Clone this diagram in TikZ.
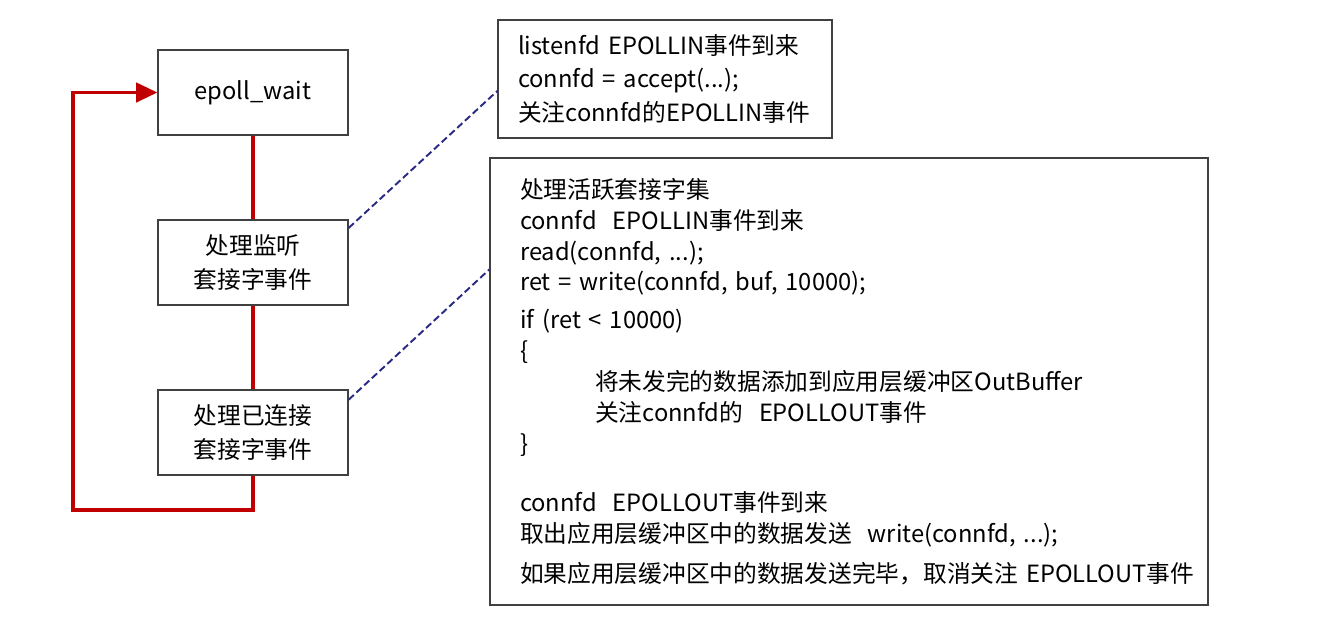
\documentclass[tikz,border=0pt]{standalone}
\usepackage{fontspec}
\setmainfont{Noto Sans CJK SC}
\usetikzlibrary{arrows.meta, calc}
\definecolor{loopred}{HTML}{C00000}
\definecolor{linkblue}{HTML}{2A2A85}
\definecolor{boxline}{HTML}{404040}

\begin{document}
\begin{tikzpicture}[
    x=0.02cm, y=-0.02cm,
    panel/.style={draw=boxline, line width=0.8pt, fill=white, inner ysep=0pt},
    stage/.style={panel, align=center, minimum width=3.8cm, minimum height=1.7cm,
                  font=\fontsize{13.5pt}{19.3pt}\selectfont},
    codebox/.style={panel, align=left},
    flow/.style={loopred, line width=1.8pt},
    link/.style={linkblue, line width=1.1pt, dash pattern=on 4pt off 2pt},
]
\useasboundingbox (0,0) rectangle (1332,630);

% main loop
\node[stage] (wait) at (253,92.5) {epoll\_wait};
\node[stage] (lsn)  at (253,262.5) {处理监听\\套接字事件};
\node[stage] (conn) at (253,432.5) {处理已连接\\套接字事件};

% what each step does
\node[codebox, text width=5.88cm, inner xsep=0.4cm, minimum height=2.36cm,
      font=\fontsize{13.5pt}{19.3pt}\selectfont] (acc) at (665,79)
   {listenfd EPOLLIN事件到来\\
    connfd = accept(...);\\
    关注connfd的EPOLLIN事件};
\node[codebox, text width=13.16cm, inner xsep=0.6cm, minimum height=8.94cm,
      font=\fontsize{13.5pt}{17.6pt}\selectfont] (act) at (849,381.5)
   {处理活跃套接字集\\
    connfd\ \ EPOLLIN事件到来\\
    read(connfd, ...);\\
    ret = write(connfd, buf, 10000);\\[0.14cm]
    if (ret < 10000)\\
    \{\\
    \hspace*{1.5cm}\mbox{将未发完的数据添加到应用层缓冲区OutBuffer}\\
    \hspace*{1.5cm}关注connfd的\ \ EPOLLOUT事件\\
    \}\\[0.56cm]
    connfd\ \ EPOLLOUT事件到来\\
    \mbox{取出应用层缓冲区中的数据发送\ \ write(connfd, ...);}\\[0.18cm]
    \mbox{如果应用层缓冲区中的数据发送完毕，取消关注~EPOLLOUT事件}};

% connectors
\draw[flow] (wait) -- (lsn);
\draw[flow] (lsn) -- (conn);
\coordinate (back) at (73,510);
\draw[flow, -{Triangle[length=12pt, width=11pt]}] (conn.south) |- (back) |- (wait.west);
\draw[link] ($(lsn.north east)!0.1!(lsn.south east)$) -- ($(acc.north west)!0.6!(acc.south west)$);
\draw[link] ($(conn.north east)!0.12!(conn.south east)$) -- ($(act.north west)!0.25!(act.south west)$);
\end{tikzpicture}
\end{document}
